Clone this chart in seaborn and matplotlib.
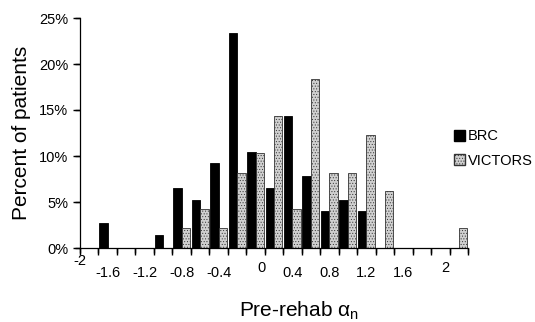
import matplotlib
matplotlib.use("Agg")
import matplotlib.pyplot as plt
import seaborn as sns
import pandas as pd
from matplotlib.patches import Patch

bins = ["-1.8", "-1.6", "-1.4", "-1.2", "-1.0", "-0.8", "-0.6", "-0.4", "-0.2", "0.0",
        "0.2", "0.4", "0.6", "0.8", "1.0", "1.2", "1.4", "1.6", "1.8", "2.0", "2.2"]
brc = [0, 2.7, 0, 0, 1.4, 6.5, 5.2, 9.2, 23.4, 10.4,
       6.5, 14.4, 7.85, 4.05, 5.25, 4.05, 0, 0, 0, 0, 0]
victors = [0, 0, 0, 0, 0, 2.2, 4.2, 2.2, 8.15, 10.3,
           14.4, 4.2, 18.4, 8.2, 8.2, 12.3, 6.2, 0, 0, 0, 2.2]
tick_labels = ["-2", "-1.6", "-1.2", "-0.8", "-0.4", "0", "0.4", "0.8", "1.2", "1.6", "2"]
tick_label_pos = [-0.5, 1, 3, 5, 7, 9.35, 11, 13, 15, 17, 19.25]
tick_label_drop = [13.4, 25, 25, 25, 25, 20, 25, 25, 25, 25, 20]
yticks = [0, 5, 10, 15, 20, 25]

sns.set_style("ticks")
plt.rcParams['font.family'] = ['Liberation Sans', 'DejaVu Sans']
plt.rcParams['mathtext.fontset'] = 'custom'
plt.rcParams['mathtext.rm'] = 'Liberation Sans'
plt.rcParams['hatch.linewidth'] = 0.4
for k in ['text.color', 'axes.labelcolor', 'xtick.color', 'ytick.color', 'axes.edgecolor']:
    plt.rcParams[k] = 'black'
for a in ['xtick', 'ytick']:
    plt.rcParams[f'{a}.major.size'] = 5
    plt.rcParams[f'{a}.major.width'] = 1
    plt.rcParams[f'{a}.direction'] = 'out'

df = pd.DataFrame({
    "bin": bins * 2,
    "pct": brc + victors,
    "group": ["BRC"] * len(bins) + ["VICTORS"] * len(bins),
})

fig = plt.figure(figsize=(5.35, 3.22), dpi=100)
ax = fig.add_axes([80/535, 1-248/322, 388/535, 230/322])

sns.barplot(data=df, x="bin", y="pct", hue="group", order=bins,
            hue_order=["BRC", "VICTORS"], palette=["black", "#d0d0d0"],
            width=0.92, edgecolor="black", linewidth=0.6, saturation=1,
            legend=False, ax=ax)

n = len(bins)
for i, p in enumerate(ax.patches):
    if i >= n:
        p.set_hatch("......")
        p.set_edgecolor("#333333")

ax.set_xlim(-0.5, n - 0.5)
ax.set_ylim(0, 25)
ax.set_yticks(yticks)
ax.set_yticklabels([f"{v}%" for v in yticks], fontsize=10.5)
boundaries = [i - 0.5 for i in range(n + 1)]
ax.set_xticks(boundaries)
ax.set_xticklabels([])
ax.set_xlabel("")
sns.despine(ax=ax)
for s in ["left", "bottom"]:
    ax.spines[s].set_linewidth(0.9)

# explicit outward tick marks at the bin boundaries and y ticks
for b in boundaries:
    ax.plot([b, b], [0, -5/230], transform=ax.get_xaxis_transform(),
            color="black", lw=1, clip_on=False, solid_capstyle="butt")
for v in yticks:
    ax.plot([0, -5/388], [v, v], transform=ax.get_yaxis_transform(),
            color="black", lw=1, clip_on=False, solid_capstyle="butt")

for lab, pos, d in zip(tick_labels, tick_label_pos, tick_label_drop):
    ax.text(pos, -d / 230, lab, transform=ax.get_xaxis_transform(),
            ha="center", va="center", fontsize=10.5)

fig.text(299/535, 1-316/322, "Pre-rehab α$_\\mathrm{n}$", fontsize=15,
         ha="center", va="baseline")
ax.set_ylabel("Percent of patients", fontsize=15, labelpad=6)

handles = [Patch(facecolor="black", edgecolor="black"),
           Patch(facecolor="#d0d0d0", edgecolor="#333333", hatch="......")]
ax.legend(handles, ["BRC", "VICTORS"], loc="center left",
          bbox_to_anchor=(454/535, 1-148.5/322), bbox_transform=fig.transFigure,
          frameon=False, handlelength=0.75, handleheight=0.75, handletextpad=0.2,
          labelspacing=0.7, borderpad=0, borderaxespad=0, fontsize=10.5)

ax.tick_params(axis="both", which="major", direction="out", length=5, width=1,
               color="black", bottom=True, left=True)
fig.savefig("out.png", dpi=100)
